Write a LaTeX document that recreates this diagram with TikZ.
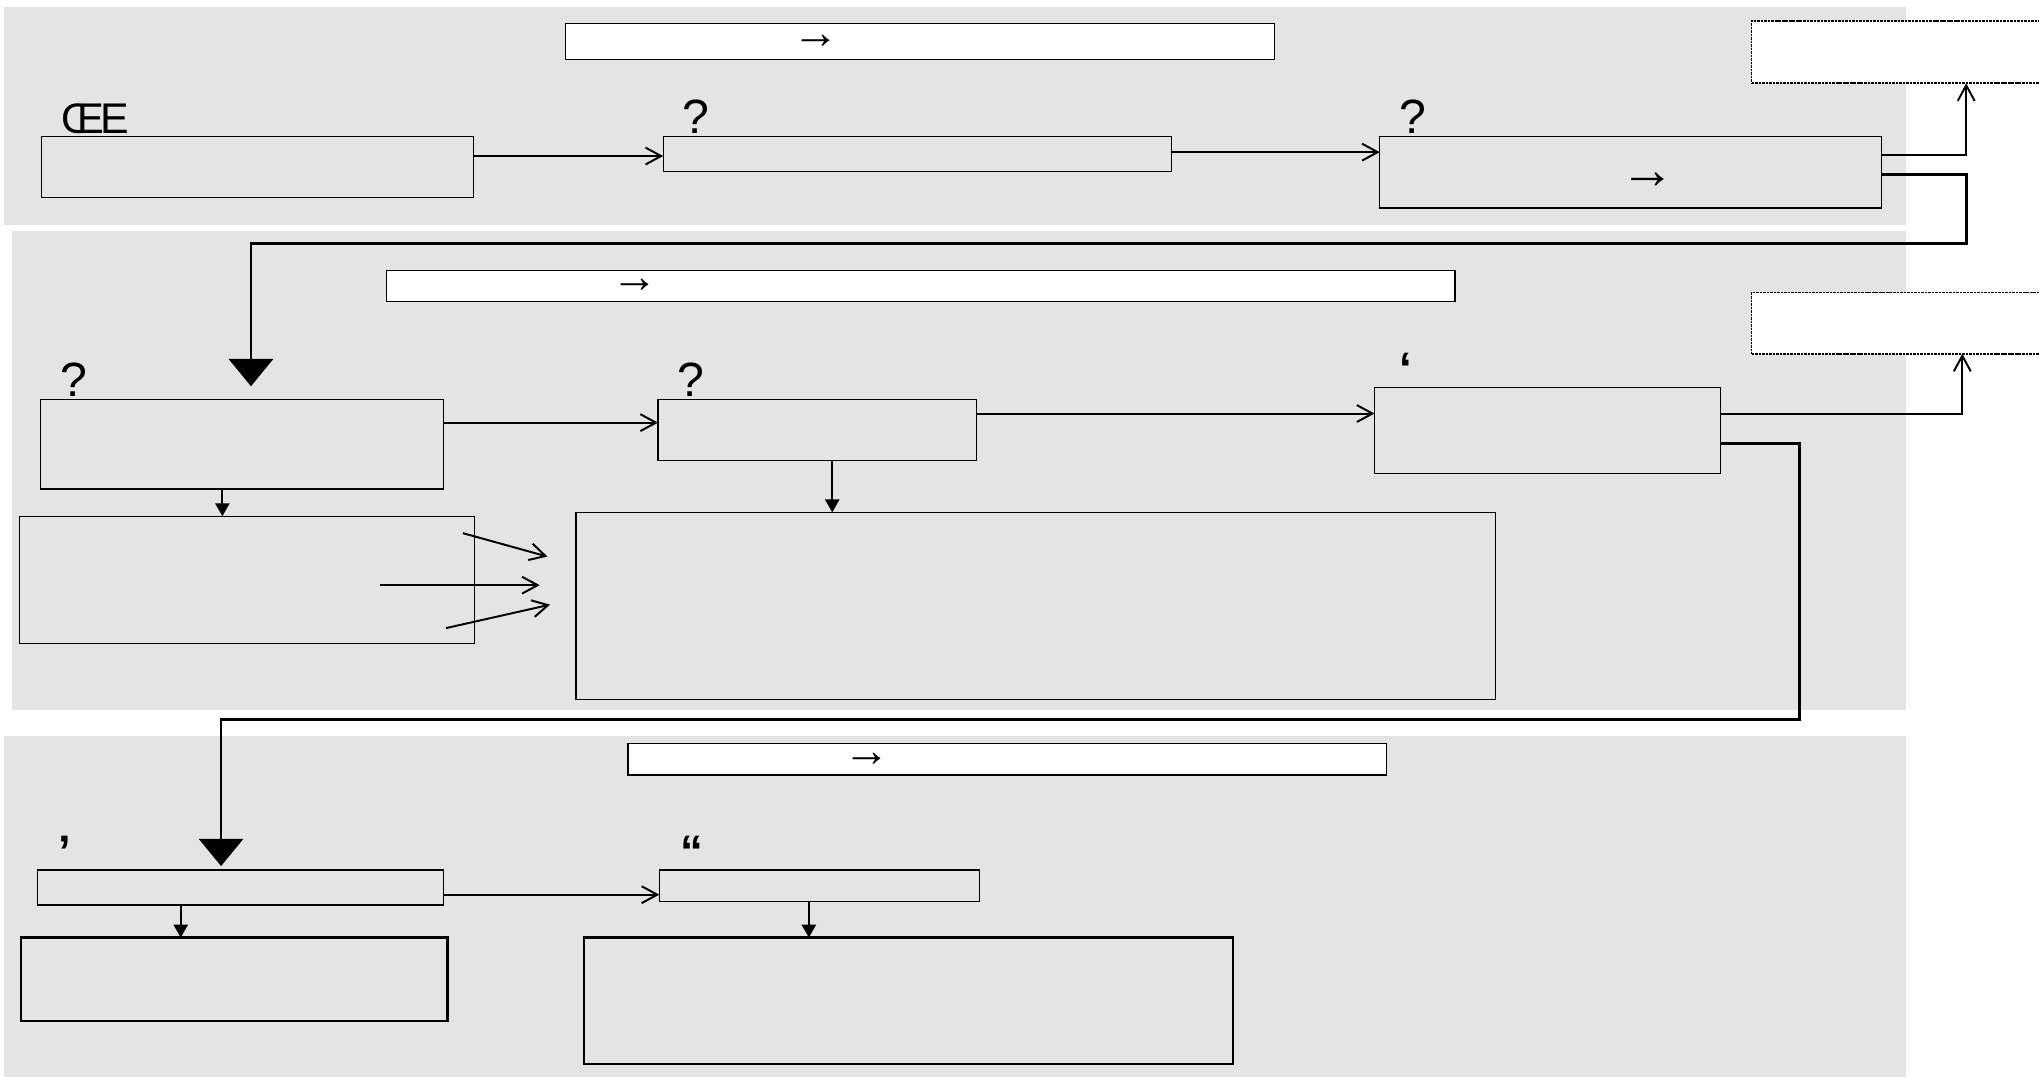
\documentclass[tikz,border=0pt]{standalone}
\usepackage{fontspec}
\setmainfont{Liberation Sans}
\usetikzlibrary{arrows.meta}
\definecolor{bandgray}{RGB}{228,228,228}

\begin{document}
\begin{tikzpicture}[x=1pt,y=-1pt,
    box/.style={draw, line width=1pt, inner sep=0pt, outer sep=0pt},
    whitebox/.style={box, fill=white},
    dotbox/.style={box, fill=white, line width=1.3pt, dash pattern=on 2pt off 0.7pt},
    bigbox/.style={box, line width=1.8pt},
    lbl/.style={anchor=base west, inner sep=0pt, font=\fontsize{37}{37}\selectfont},
    quot/.style={lbl, font=\fontsize{35}{35}\selectfont\bfseries},
    arr/.style={inner sep=0pt, font=\fontsize{36}{36}\selectfont},
    link/.style={line width=1.5pt, -{Straight Barb[length=12pt,width=13pt]}},
    feed/.style={line width=2.2pt, -{Triangle[length=21pt,width=34pt]}},
    down/.style={line width=1.4pt, -{Triangle[length=10pt,width=11pt]}}]
    \useasboundingbox (0,0) rectangle (1568,828);
    \clip (0,0) rectangle (1568,828);

    \fill[bandgray] (3,5) rectangle (1466,173);
    \fill[bandgray] (9,178) rectangle (1466,546);
    \fill[bandgray] (3,566) rectangle (1466,828);

    \node[whitebox, minimum width=545pt, minimum height=28pt] (t1) at (707.5,32) {};
    \node[dotbox, minimum width=260pt, minimum height=48pt] (r1) at (1477,40) {};
    \node[box, minimum width=332pt, minimum height=47pt] (a1) at (198,128.5) {};
    \node[box, minimum width=391pt, minimum height=27pt] (b1) at (705.5,118.5) {};
    \node[box, minimum width=386pt, minimum height=55pt] (c1) at (1254,132.5) {};

    \node[whitebox, minimum width=822pt, minimum height=24pt] (t2) at (708,220) {};
    \node[dotbox, minimum width=260pt, minimum height=47pt] (r2) at (1477,248.5) {};
    \node[box, minimum width=310pt, minimum height=69pt] (a2) at (186,341.5) {};
    \node[box, minimum width=245pt, minimum height=47pt] (b2) at (628.5,330.5) {};
    \node[box, minimum width=266pt, minimum height=66pt] (c2) at (1190,331) {};
    \node[box, minimum width=350pt, minimum height=98pt] (d2) at (190,446) {};
    \node[box, minimum width=707pt, minimum height=144pt] (e2) at (796.5,466) {};

    \node[whitebox, minimum width=583pt, minimum height=24pt] (t3) at (774.5,584) {};
    \node[box, minimum width=312pt, minimum height=27pt] (a3) at (185,682.5) {};
    \node[box, minimum width=246pt, minimum height=24pt] (b3) at (630,681) {};
    \node[bigbox, minimum width=328pt, minimum height=64pt] (d3) at (180,753) {};
    \node[bigbox, minimum width=499pt, minimum height=97pt] (e3) at (698.5,769.5) {};

    \node[lbl, font=\fontsize{33}{33}\selectfont] at ([shift={(15,-2)}]a1.north west) {Œ\kern-.08em E};
    \node[lbl] at ([shift={(15,-2)}]b1.north west) {?};
    \node[lbl] at ([shift={(15,-2)}]c1.north west) {?};
    \node[lbl] at ([shift={(15,-2)}]a2.north west) {?};
    \node[lbl] at ([shift={(15,-2)}]b2.north west) {?};
    \node[quot] at ([shift={(19,-2)}]c2.north west) {‘};
    \node[quot] at ([shift={(16,-2)}]a3.north west) {’};
    \node[quot] at ([shift={(16,-2)}]b3.north west) {“};

    \node[arr] at ([xshift=-80pt]t1.center) {→};
    \node[arr, font=\fontsize{42}{42}\selectfont] at ([shift={(13,6.5)}]c1.center) {→};
    \node[arr] at ([xshift=-220pt]t2.center) {→};
    \node[arr] at ([xshift=-107.5pt]t3.center) {→};

    \draw[link] (a1.east |- 0,120) -- (b1.west |- 0,120);
    \draw[link] (b1.east |- 0,117) -- (c1.west |- 0,117);
    \coordinate (u1) at (1512,119);
    \draw[link] (u1 -| c1.east) -| (u1 |- r1.south);
    \coordinate (v1) at (1512,187);
    \coordinate (w1) at (193,297);
    \draw[feed] (c1.east |- 0,134) -| (v1) -| (w1);

    \coordinate (u2) at (1509,318);
    \draw[link] (u2 -| c2.east) -| (u2 |- r2.south);
    \coordinate (v2) at (1384,553);
    \coordinate (w2) at (170,666);
    \draw[feed] (c2.east |- 0,341) -| (v2) -| (w2);
    \draw[link] (a2.east |- 0,325) -- (b2.west |- 0,325);
    \draw[link] (b2.east |- 0,318) -- (c2.west |- 0,318);
    \draw[down] (a2.south -| 171,0) -- (d2.north -| 171,0);
    \draw[down] (b2.south -| 640,0) -- (e2.north -| 640,0);
    \foreach \sx/\sy/\ex/\ey in {-9/-36/-22/-38, -73/4/-28/-16, -22/37/-20/-1}
        \draw[link] ([shift={(\sx,\sy)}]d2.east) -- ([shift={(\ex,\ey)}]e2.west);

    \draw[link] (a3.east |- 0,688) -- (b3.west |- 0,688);
    \draw[down] (a3.south -| 139,0) -- (d3.north -| 139,0);
    \draw[down] (b3.south -| 622,0) -- (e3.north -| 622,0);
\end{tikzpicture}
\end{document}
